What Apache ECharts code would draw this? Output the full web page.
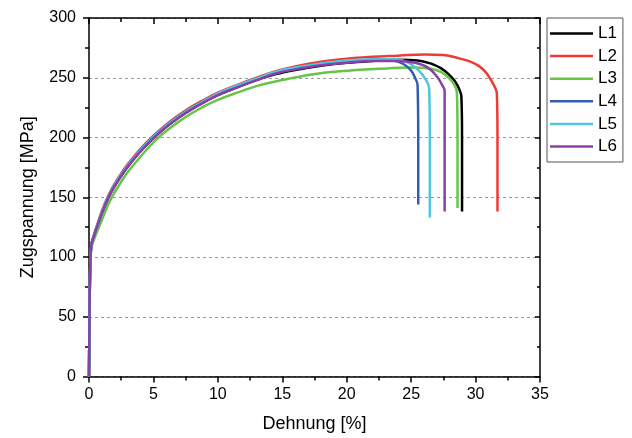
<!DOCTYPE html>
<html>
<head>
<meta charset="utf-8">
<script src="https://cdn.jsdelivr.net/npm/echarts@6/dist/echarts.min.js"></script>
<style>
  html, body {margin: 0; padding: 0; background: #fff;}
  #main {width: 632px; height: 438px;}
</style>
</head>
<body>
<div id="main"></div>
<script>
// Dehnung [%], Zugspannung [MPa]
const names = ['L1', 'L2', 'L3', 'L4', 'L5', 'L6'];
const colors = ['#000000', '#F03A34', '#66C447', '#2F5EAE', '#4FC6E0', '#8A3FA6'];

const L1 = [[0,0],[0.03,40],[0.07,80],[0.12,100],[0.2,111],[0.4,118],[0.7,127.5],[1.0,136.5],[1.5,149.5],[2.0,159.5],[2.5,168],[3.0,175.5],[4.0,188.5],[5.0,199.5],[6,209],[7,217],[8,224],[9,230],[10,235.5],[11.5,242],[13,248],[14.5,253],[16,256.5],[18,260],[20,262.5],[22,264],[24,265],[25.5,264.5],[26.5,262],[27.3,258],[27.9,253],[28.4,247],[28.75,240],[28.9,234],[28.95,200],[28.95,138]];
const L2 = [[0,0],[0.03,40],[0.07,80],[0.12,100],[0.2,111],[0.4,119],[0.7,129],[1.0,138.5],[1.5,151.5],[2.0,161.5],[2.5,170],[3.0,177.5],[4.0,190.5],[5.0,201.5],[6,211],[7,219],[8,226],[9,232],[10,237.5],[11.5,244],[13,250],[14.5,255.5],[16,259.5],[18,263.5],[20,266],[22,267.5],[24,268.5],[26,269.5],[27.5,269],[28.8,266],[29.6,263.5],[30.3,259.5],[30.8,254.5],[31.2,248],[31.5,242],[31.65,237],[31.7,200],[31.7,138]];
const L3 = [[0,0],[0.03,40],[0.07,80],[0.12,98],[0.2,108],[0.4,115],[0.7,123],[1.0,131],[1.7,148.5],[2.5,163],[3.0,171],[4.0,184],[5.0,196],[6,205.5],[7,213.5],[8,220.5],[9,226.5],[10,231.5],[11.5,237.5],[13,243],[15.4,249],[17.4,253],[19.5,255.5],[22.5,257.5],[25,258.5],[26.5,257.5],[27.3,255],[27.9,250],[28.3,245],[28.55,238],[28.6,200],[28.6,141]];
const L4 = [[0,0],[0.03,40],[0.07,80],[0.12,100],[0.2,111],[0.4,118.5],[0.7,128],[1.0,137.5],[1.5,150.5],[2.0,160.5],[2.5,169],[3.0,176.5],[4.0,189.5],[5.0,200.5],[6,210],[7,218],[8,225],[9,231],[10,236.5],[11.5,243],[13,249],[14.5,254.5],[16,258],[18,261.5],[20,263.5],[22,265],[23.6,264.5],[24.4,261.5],[25,256],[25.3,250],[25.5,244],[25.55,200],[25.55,144]];
const L5 = [[0,0],[0.03,40],[0.07,80],[0.12,100],[0.2,111],[0.4,118.5],[0.7,128],[1.0,137.5],[1.5,150.5],[2.0,160.5],[2.5,169],[3.0,176.5],[4.0,189.5],[5.0,200.5],[6,210],[7,218],[8,225],[9,231],[10,237],[11.5,243.5],[13,249.5],[14.5,255],[16,258.5],[18,262],[20,264.5],[22,265.5],[23.8,265.5],[24.8,262.5],[25.6,256],[26.1,249],[26.4,241],[26.45,200],[26.45,133]];
const L6 = [[0,0],[0.03,40],[0.07,80],[0.12,100],[0.2,111],[0.4,118],[0.7,127.5],[1.0,136.5],[1.5,149.5],[2.0,159.5],[2.5,168],[3.0,175.5],[4.0,188.5],[5.0,199.5],[6,209],[7,217],[8,224],[9,230],[10,235.5],[11.5,242],[13,248],[14.5,253.5],[16,257],[18,260.5],[20,262.5],[22,264],[24,264],[25.3,262.5],[26.3,258.5],[27,251],[27.4,244],[27.6,239],[27.6,200],[27.6,138]];
const curves = [L1, L2, L3, L4, L5, L6];

const font = 'Liberation Sans, Arial, sans-serif';
const chart = echarts.init(document.getElementById('main'));

chart.setOption({
  animation: false,
  backgroundColor: '#fff',
  grid: {left: 89, right: 92, top: 18, bottom: 58},
  legend: {
    orient: 'vertical',
    left: 547,
    top: 18,
    padding: [7, 6, 7, 3],
    icon: 'rect',
    itemWidth: 43,
    itemHeight: 2.5,
    itemGap: 5.6,
    borderColor: '#555',
    borderWidth: 1,
    textStyle: {fontFamily: font, fontSize: 17, color: '#000'},
    data: names
  },
  xAxis: [
    {
      type: 'value', min: 0, max: 35, interval: 5,
      name: 'Dehnung [%]', nameLocation: 'middle', nameGap: 38.5,
      nameTextStyle: {fontFamily: font, fontSize: 18, color: '#000'},
      axisLine: {onZero: false, lineStyle: {color: '#000', width: 1.5}},
      axisTick: {show: true, inside: false, length: 6, lineStyle: {color: '#000', width: 1.5}},
      minorTick: {show: true, splitNumber: 2, length: 4, lineStyle: {color: '#000', width: 1.5}},
      axisLabel: {fontFamily: font, fontSize: 16, color: '#000', margin: 10},
      splitLine: {show: false}
    },
    {
      type: 'value', min: 0, max: 35, interval: 5, position: 'top',
      axisLine: {onZero: false, lineStyle: {color: '#000', width: 1.5}},
      axisTick: {show: true, inside: true, length: 6, lineStyle: {color: '#000', width: 1.5}},
      minorTick: {show: true, splitNumber: 2, length: 4, lineStyle: {color: '#000', width: 1.5}},
      axisLabel: {show: false},
      splitLine: {show: false}
    }
  ],
  yAxis: [
    {
      type: 'value', min: 0, max: 300, interval: 50,
      name: 'Zugspannung [MPa]', nameLocation: 'middle', nameGap: 52,
      nameTextStyle: {fontFamily: font, fontSize: 18, color: '#000'},
      axisLine: {show: true, onZero: false, lineStyle: {color: '#000', width: 1.5}},
      axisTick: {show: true, inside: false, length: 6, lineStyle: {color: '#000', width: 1.5}},
      minorTick: {show: true, splitNumber: 2, length: 4, lineStyle: {color: '#000', width: 1.5}},
      axisLabel: {fontFamily: font, fontSize: 16, color: '#000', margin: 13},
      splitLine: {show: true, lineStyle: {color: '#999', type: [3, 3], width: 1}}
    },
    {
      type: 'value', min: 0, max: 300, interval: 50, position: 'right',
      axisLine: {show: true, onZero: false, lineStyle: {color: '#000', width: 1.5}},
      axisTick: {show: true, inside: true, length: 5, lineStyle: {color: '#000', width: 1.5}},
      minorTick: {show: true, splitNumber: 2, length: 3, lineStyle: {color: '#000', width: 1.5}},
      axisLabel: {show: false},
      splitLine: {show: false}
    }
  ],
  series: names.map((n, i) => ({
    name: n,
    type: 'line',
    data: curves[i],
    symbol: 'none',
    smooth: 0.4,
    color: colors[i],
    lineStyle: {width: 2.5, color: colors[i]}
  }))
});
</script>
</body>
</html>
